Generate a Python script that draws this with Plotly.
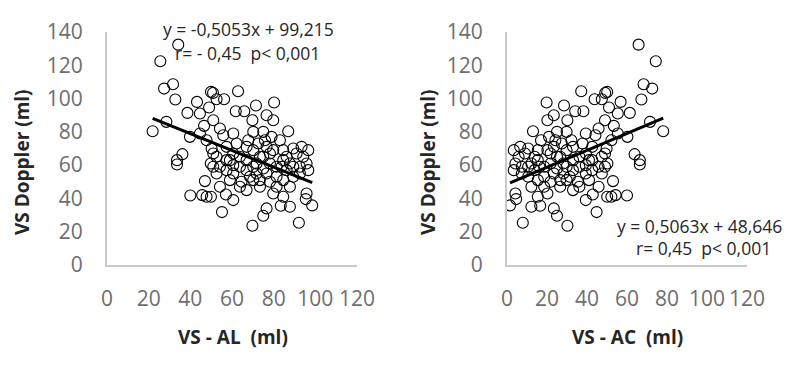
import plotly.graph_objects as go
from plotly.subplots import make_subplots

# VS Doppler (ml), shared y values
doppler = [132.4, 122.4, 108.6, 106, 99.4, 104, 103.4, 104.4, 98, 99.6,
           99.6, 94.6, 92.4, 92.4, 95.8, 97.6, 91.4, 91, 86, 80.4,
           83.6, 87, 77, 82, 78, 79, 87, 90, 87, 80.4,
           80, 80, 75, 77, 75, 66.6, 63, 60.4, 70, 65,
           61, 59, 63, 67, 65, 71, 69, 65, 71, 69,
           69, 70, 71, 69, 65, 61, 59, 61, 63, 59,
           61, 58, 59, 57, 59, 55, 57, 55, 51, 50.4,
           41, 41.8, 42, 41, 42.4, 39, 31.8, 23.6, 29.6, 34,
           47, 50, 47, 51, 51, 47, 53, 55, 57, 43,
           39.6, 35.8, 25.4, 35.6, 35, 43, 41, 50, 45, 47,
           47, 67, 73, 73, 75, 61, 53, 57, 59, 63,
           63, 65, 67, 65, 67, 79, 75, 71, 59, 60,
           53, 55, 55, 59, 51]

# VS - AL (ml)
vs_al = [34.2, 25.6, 31.7, 27.4, 32.8, 49.9, 50.9, 62.9, 43.2, 52.6,
         56.2, 49, 61.8, 65.9, 71.5, 80.2, 38.6, 44.6, 28.5, 21.9,
         46.6, 51, 39.8, 54.2, 55.8, 60.6, 69.8, 76.6, 79.8, 87,
         75, 70.2, 67.8, 79, 83, 36.2, 33.6, 33.6, 50.2, 52.6,
         49.8, 54.2, 57.4, 60.6, 63.8, 67, 70.2, 73.4, 76.6, 79.8,
         84.6, 89.4, 93.4, 96.6, 94.2, 95.8, 92.6, 87.8, 84.6, 81.4,
         78.2, 75, 70.2, 67, 63.8, 60.6, 57.4, 52.6, 59, 47,
         47.8, 40, 45.7, 49.9, 57.1, 60.6, 55.2, 69.8, 75, 76.6,
         81.4, 78.2, 73.4, 70.2, 84.6, 87.8, 89.4, 92.6, 96.6, 95.8,
         95.4, 98.5, 92.1, 83.4, 87.8, 79.8, 84.6, 64.6, 67, 63.8,
         54.2, 51, 62.2, 72.6, 75.8, 71.8, 81.4, 86.2, 89.4, 59,
         67, 75, 78.2, 86.2, 91, 44.6, 47.8, 57.4, 51, 60.6,
         68.6, 71.8, 76.6, 83.8, 73.4]

# VS - AC (ml)
vs_ac = [65.8, 74.4, 68.3, 72.6, 67.2, 50.1, 49.1, 37.1, 56.8, 47.4,
         43.8, 51, 38.2, 34.1, 28.5, 19.8, 61.4, 55.4, 71.5, 78.1,
         53.4, 49, 60.2, 45.8, 44.2, 39.4, 30.2, 23.4, 20.2, 13,
         25, 29.8, 32.2, 21, 17, 63.8, 66.4, 66.4, 49.8, 47.4,
         50.2, 45.8, 42.6, 39.4, 36.2, 33, 29.8, 26.6, 23.4, 20.2,
         15.4, 10.6, 6.6, 3.4, 5.8, 4.2, 7.4, 12.2, 15.4, 18.6,
         21.8, 25, 29.8, 33, 36.2, 39.4, 42.6, 47.4, 41, 53,
         52.2, 60, 54.3, 50.1, 42.9, 39.4, 44.8, 30.2, 25, 23.4,
         18.6, 21.8, 26.6, 29.8, 15.4, 12.2, 10.6, 7.4, 3.4, 4.2,
         4.6, 1.5, 7.9, 16.6, 12.2, 20.2, 15.4, 35.4, 33, 36.2,
         45.8, 49, 37.8, 27.4, 24.2, 28.2, 18.6, 13.8, 10.6, 41,
         33, 25, 21.8, 13.8, 9, 55.4, 52.2, 42.6, 49, 39.4,
         31.4, 28.2, 23.4, 16.2, 26.6]

# regression coefficients from the chart labels
al_slope, al_intercept = -0.5053, 99.215
ac_slope, ac_intercept = 0.5063, 48.646

tick_vals_x = [0, 20, 40, 60, 80, 100, 120]
tick_vals_y = [0, 20, 40, 60, 80, 100, 120, 140]

W, H = 800, 368

fig = make_subplots(rows=1, cols=2)

marker = dict(symbol="circle-open", size=11, color="black", line=dict(width=1.1))

fig.add_trace(go.Scatter(x=vs_al, y=doppler, mode="markers", marker=marker,
                         showlegend=False), row=1, col=1)
al_line_x = [min(vs_al), max(vs_al)]
fig.add_trace(go.Scatter(x=al_line_x, y=[al_slope * v + al_intercept for v in al_line_x],
                         mode="lines", line=dict(color="black", width=3),
                         showlegend=False), row=1, col=1)

fig.add_trace(go.Scatter(x=vs_ac, y=doppler, mode="markers", marker=marker,
                         showlegend=False), row=1, col=2)
ac_line_x = [min(vs_ac), max(vs_ac)]
fig.add_trace(go.Scatter(x=ac_line_x, y=[ac_slope * v + ac_intercept for v in ac_line_x],
                         mode="lines", line=dict(color="black", width=3),
                         showlegend=False), row=1, col=2)

tick_font = dict(family="Open Sans, sans-serif", size=21, color="#6e6e6e")
axis_common = dict(showgrid=False, zeroline=False, showline=True, linecolor="#c8c8c8",
                   linewidth=2, ticks="", tickfont=tick_font, automargin=False)

ydom = [1 - 265 / H, 1 - 32 / H]
fig.update_xaxes(axis_common, range=[0, 120], tickvals=tick_vals_x, tickangle=0,
                 ticklabelstandoff=14)
fig.update_yaxes(axis_common, range=[0, 140], tickvals=tick_vals_y,
                 ticklabelstandoff=18, domain=ydom)
fig.update_layout(
    xaxis=dict(domain=[107 / W, 357 / W]),
    xaxis2=dict(domain=[507 / W, 747 / W]),
)

title_font = dict(family="Open Sans, sans-serif", size=19, color="#262626")
text_font = dict(family="Open Sans, sans-serif", size=17.5, color="#262626")

annotations = [
    dict(text="<b>VS Doppler (ml)</b>", x=22 / W, y=1 - 162 / H, textangle=-90, font=title_font),
    dict(text="<b>VS Doppler (ml)</b>", x=428 / W, y=1 - 162 / H, textangle=-90, font=title_font),
    dict(text="<b>VS - AL\u00a0 (ml)</b>", x=233 / W, y=1 - 337 / H, font=title_font),
    dict(text="<b>VS - AC\u00a0 (ml)</b>", x=627 / W, y=1 - 337 / H, font=title_font),
    dict(text="y = -0,5053x + 99,215", x=248 / W, y=1 - 29 / H, font=text_font),
    dict(text="r= - 0,45\u00a0 p< 0,001", x=247 / W, y=1 - 53 / H, font=text_font),
    dict(text="y = 0,5063x + 48,646", x=784 / W, y=1 - 226 / H, font=text_font,
         xanchor="right"),
    dict(text="r= 0,45\u00a0 p< 0,001", x=773 / W, y=1 - 248 / H, font=text_font,
         xanchor="right"),
]
for a in annotations:
    a.setdefault("xanchor", "center")
    a.update(xref="paper", yref="paper", showarrow=False, yanchor="middle")

fig.update_layout(
    template="none",
    width=W, height=H,
    margin=dict(l=0, r=0, t=0, b=0, autoexpand=False),
    paper_bgcolor="white", plot_bgcolor="white",
    annotations=annotations,
)

fig.write_html("out.html", config={"displayModeBar": False},
               post_script="document.body.style.margin='0';")
